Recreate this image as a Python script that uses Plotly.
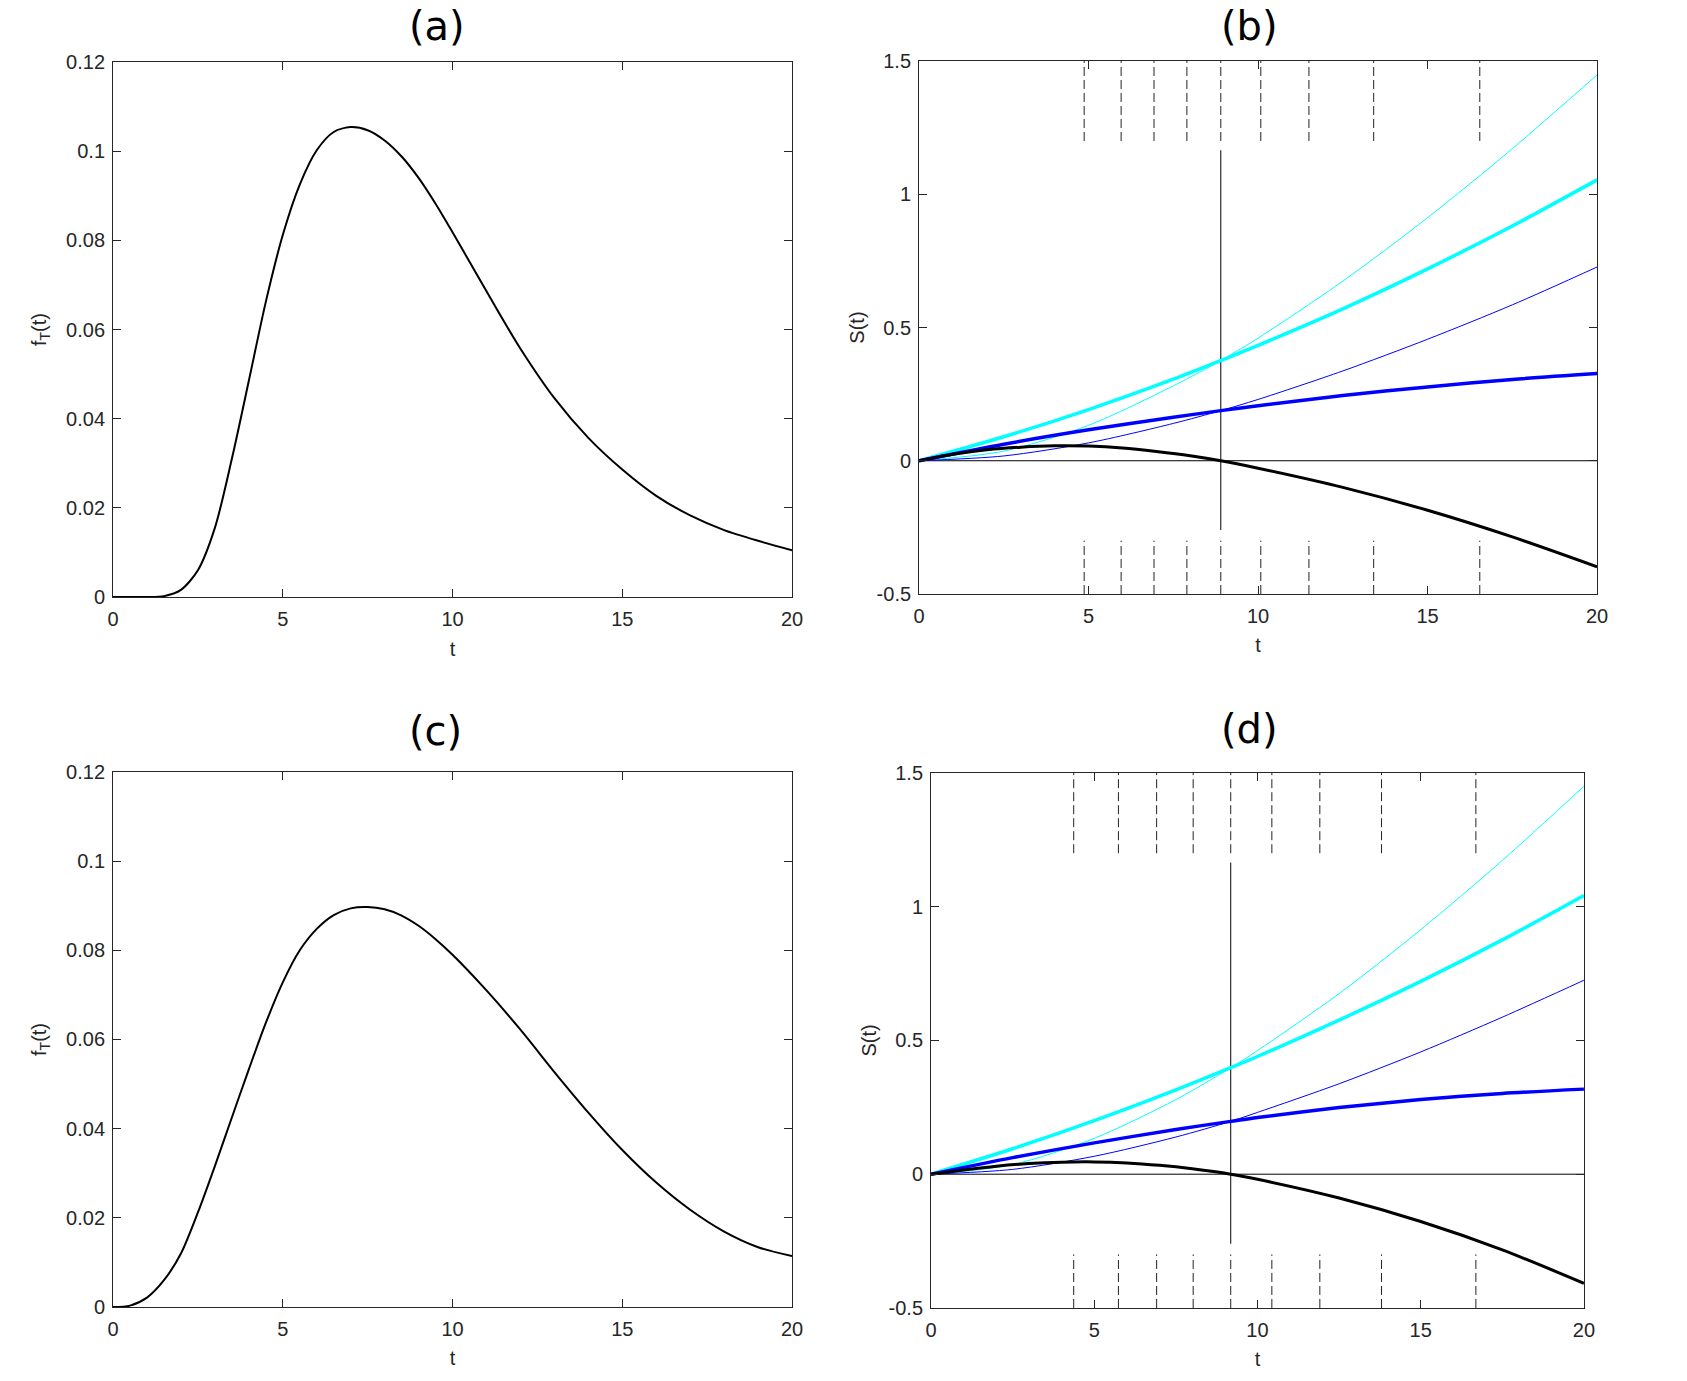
import plotly.graph_objects as go

# ---------------- data ----------------
t_a = [0, 0.5, 1, 1.5, 2, 2.5, 3, 3.5, 4, 4.5, 5, 5.5, 6, 6.5, 7, 7.5, 8, 8.5, 9, 9.5,
       10, 10.5, 11, 11.5, 12, 13, 14, 15, 16, 17, 18, 19, 20]
f_a = [0, 0, 0, 0.0002, 0.0016, 0.0060, 0.0155, 0.031, 0.0485, 0.0662, 0.0812, 0.0925,
       0.1002, 0.1043, 0.1054, 0.1047, 0.1024, 0.0988, 0.0940, 0.0882,
       0.0818, 0.0752, 0.0686, 0.0620, 0.0557, 0.0446, 0.0357, 0.0286, 0.0227, 0.0183,
       0.0150, 0.0126, 0.0105]

t_c = [0, 0.5, 1, 1.5, 2, 2.5, 3, 3.5, 4, 4.5, 5, 5.5, 6, 6.5, 7, 7.5, 8, 8.5, 9, 9.5,
       10, 11, 12, 13, 14, 15, 16, 17, 18, 19, 20]
f_c = [0, 0.0003, 0.0021, 0.0060, 0.0120, 0.0212, 0.0316, 0.0425, 0.0533, 0.0637, 0.0728,
       0.0800, 0.0848, 0.0879, 0.0894, 0.0897, 0.0892, 0.0878, 0.0855, 0.0825,
       0.0790, 0.0710, 0.0622, 0.0527, 0.0436, 0.0352, 0.0279, 0.0218, 0.0169, 0.0134, 0.0114]

# panel (b)
t_b = [0, 2.5, 5, 7.5, 8.9, 10, 12.5, 15, 17.5, 20]
thin_cyan_b = [0, 0.036, 0.133, 0.281, 0.376, 0.460, 0.674, 0.912, 1.171, 1.448]
thick_cyan_b = [0, 0.090, 0.192, 0.306, 0.376, 0.433, 0.570, 0.720, 0.881, 1.054]
thin_blue_b = [0, 0.018, 0.067, 0.140, 0.188, 0.230, 0.337, 0.456, 0.585, 0.727]
thick_blue_b = [0, 0.062, 0.116, 0.163, 0.188, 0.206, 0.245, 0.277, 0.305, 0.327]
t_kb = [0, 1, 2, 3, 4, 5, 6, 7, 8, 8.9, 10, 12.5, 15, 17.5, 20]
black_b = [0, 0.024, 0.041, 0.051, 0.056, 0.055, 0.048, 0.035, 0.019, 0, -0.028, -0.100,
           -0.186, -0.286, -0.398]
q_b = [4.87, 5.96, 6.93, 7.90, 8.90, 10.08, 11.50, 13.41, 16.54]
med_b = 8.90

# panel (d)
t_d = [0, 2.5, 5, 7.5, 9.18, 10, 12.5, 15, 17.5, 20]
thin_cyan_d = [0, 0.036, 0.134, 0.279, 0.398, 0.462, 0.675, 0.914, 1.173, 1.450]
thick_cyan_d = [0, 0.095, 0.200, 0.315, 0.398, 0.440, 0.576, 0.721, 0.876, 1.042]
thin_blue_d = [0, 0.018, 0.067, 0.139, 0.1975, 0.231, 0.338, 0.457, 0.587, 0.725]
thick_blue_d = [0, 0.062, 0.117, 0.167, 0.1975, 0.212, 0.249, 0.279, 0.302, 0.318]
t_kd = [0, 1, 2, 3, 4, 5, 6, 7, 8, 9.18, 10, 12.5, 15, 17.5, 20]
black_d = [0, 0.016, 0.030, 0.040, 0.045, 0.046, 0.042, 0.033, 0.020, 0, -0.019, -0.089,
           -0.177, -0.283, -0.408]
q_d = [4.37, 5.74, 6.91, 8.03, 9.18, 10.44, 11.91, 13.80, 16.69]
med_d = 9.18

x_ticks = [0, 5, 10, 15, 20]
yf_ticks = [0, 0.02, 0.04, 0.06, 0.08, 0.1, 0.12]
yf_text = ["0", "0.02", "0.04", "0.06", "0.08", "0.1", "0.12"]
ys_ticks = [-0.5, 0, 0.5, 1, 1.5]
ys_text = ["-0.5", "0", "0.5", "1", "1.5"]
titles = ["(a)", "(b)", "(c)", "(d)"]

# ---------------- figure ----------------
fig = go.Figure()
TF = "Liberation Sans, Arial, sans-serif"
AX = "#262626"


def line(x, y, xa, ya, color, width, dash="solid", shape="spline"):
    fig.add_trace(go.Scatter(x=x, y=y, xaxis=xa, yaxis=ya, mode="lines",
                             line=dict(color=color, width=width, dash=dash, shape=shape,
                                       smoothing=0.8),
                             showlegend=False, hoverinfo="skip"))


line(t_a, f_a, "x", "y", "black", 2)
line(t_c, f_c, "x3", "y3", "black", 2)

for xa, ya, tt, tc, tk, tb, tkb, tkk, bk, q, med in [
    ("x2", "y2", t_b, thin_cyan_b, thick_cyan_b, thin_blue_b, thick_blue_b, t_kb, black_b, q_b, med_b),
    ("x4", "y4", t_d, thin_cyan_d, thick_cyan_d, thin_blue_d, thick_blue_d, t_kd, black_d, q_d, med_d),
]:
    # dashed quantile markers (top and bottom)
    xs, ys = [], []
    for v in q:
        xs += [v, v, None]
        ys += [1.2, 1.5, None]
    line(xs, ys, xa, ya, "#222222", 1, dash="9px,4px", shape="linear")
    xs, ys = [], []
    for v in q:
        xs += [v, v, None]
        ys += [-0.5, -0.3, None]
    line(xs, ys, xa, ya, "#222222", 1, dash="9px,4px", shape="linear")
    # zero line and median line
    line([0, 20], [0, 0], xa, ya, "black", 1, shape="linear")
    line([med, med], [-0.26, 1.165], xa, ya, "black", 1, shape="linear")
    # curves
    line(tt, tc, xa, ya, "#00FFFF", 1)
    line(tt, tk, xa, ya, "#00FFFF", 3.5)
    line(tt, tb, xa, ya, "#0000FF", 1)
    line(tt, tkb, xa, ya, "#0000FF", 3.5)
    line(tkk, bk, xa, ya, "black", 3)

common_axis = dict(showline=True, linecolor=AX, linewidth=1, mirror="ticks",
                   ticks="inside", ticklen=8, tickcolor=AX, tickwidth=1,
                   showgrid=False, zeroline=False, automargin=False,
                   tickfont=dict(family=TF, size=20, color=AX))

domains = {
    1: ([0.0670, 0.4695], [0.5677, 0.9551]),
    2: ([0.5448, 0.9467], [0.5699, 0.9558]),
    3: ([0.0670, 0.4695], [0.0536, 0.4410]),
    4: ([0.5519, 0.9389], [0.0529, 0.4403]),
}

layout = dict(width=1687, height=1381, margin=dict(l=0, r=0, t=0, b=0, autoexpand=False),
              paper_bgcolor="white", plot_bgcolor="white", showlegend=False)

for i in range(1, 5):
    dx, dy = domains[i]
    sx = "" if i == 1 else str(i)
    layout["xaxis" + sx] = dict(common_axis, domain=dx, range=[0, 20], anchor="y" + sx,
                                tickvals=x_ticks, ticktext=[str(v) for v in x_ticks],
                                ticklabelstandoff=4,
                                title=dict(text="t", standoff=12,
                                           font=dict(family=TF, size=20, color=AX)))
    if i in (1, 3):
        yd = dict(range=[0, 0.12], tickvals=yf_ticks, ticktext=yf_text,
                  title=dict(text="f<sub>T</sub>(t)", standoff=14,
                             font=dict(family=TF, size=20, color=AX)))
    else:
        yd = dict(range=[-0.5, 1.5], tickvals=ys_ticks, ticktext=ys_text,
                  title=dict(text="S(t)", standoff=6,
                             font=dict(family=TF, size=20, color=AX)))
    layout["yaxis" + sx] = dict(common_axis, domain=dy, anchor="x" + sx,
                                ticklabelstandoff=3, **yd)

fig.update_layout(**layout)

title_pos = [(437, 1), (1249, 1), (435, 706), (1249, 704)]
for txt, (px, py) in zip(titles, title_pos):
    fig.add_annotation(text=txt, x=px / 1687, y=1 - py / 1381, xref="paper", yref="paper",
                       showarrow=False, xanchor="center", yanchor="top",
                       font=dict(family="DejaVu Sans, sans-serif", size=40, color="black"))

fig.write_html("out.html")
